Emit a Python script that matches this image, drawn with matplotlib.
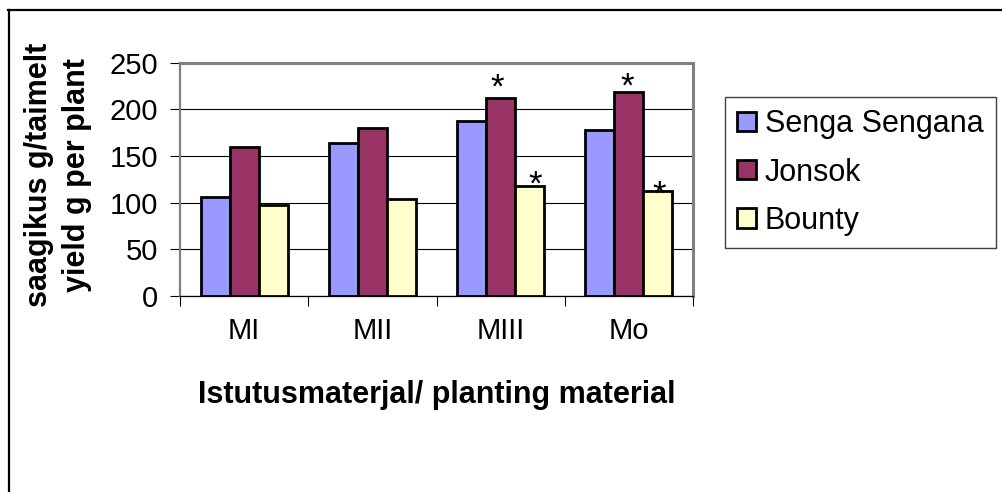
import numpy as np
import matplotlib.pyplot as plt
from matplotlib.lines import Line2D
from matplotlib.patches import Patch

plt.rcParams["font.family"] = ["Liberation Sans", "DejaVu Sans"]

groups = ["MI", "MII", "MIII", "Mo"]
series = ["Senga Sengana", "Jonsok", "Bounty"]
senga = [106, 164, 187, 178]
jonsok = [160, 180, 212, 219]
bounty = [98, 104, 118, 113]
colors = ["#9999FF", "#993366", "#FFFFCC"]

# significance marks: (group index, series index, dx px, star centre height above bar px)
stars = [(2, 1, -3, 20), (2, 2, 6, 11), (3, 1, -2, 15), (3, 2, 1, 6)]

fig = plt.figure(figsize=(10.02, 4.92), dpi=100)
ax = fig.add_axes([180 / 1002, 1 - 296 / 492, 513 / 1002, (296 - 62.7) / 492])

x = np.arange(len(groups))
w = 0.2266
values = [senga, jonsok, bounty]
for k, (name, vals, col) in enumerate(zip(series, values, colors)):
    ax.bar(x + (k - 1) * w, vals, w, color=col, edgecolor="black",
           linewidth=2.0, label=name, zorder=3)

px = 72 / 100  # points per pixel
star_size = 25
for g, s, dx, dy in stars:
    ax.annotate("*", xy=(x[g] + (s - 1) * w, values[s][g]),
                xytext=(dx * px, dy * px - star_size * 0.57), textcoords="offset points",
                ha="center", va="baseline", fontsize=star_size, zorder=4)

ax.set_xlim(-0.5, 3.5)
ax.set_ylim(0, 250)
ax.set_yticks(range(0, 251, 50))
ax.yaxis.grid(True, color="black", linewidth=0.8, zorder=0)
ax.set_axisbelow(True)

ax.set_xticks(x)
ax.set_xticklabels(groups)
ax.set_xticks(np.arange(-0.5, 4, 1), minor=True)
ax.tick_params(axis="x", which="major", length=0, pad=15, labelsize=21)
ax.tick_params(axis="x", which="minor", length=7, width=0.8, direction="out")
ax.tick_params(axis="y", length=7, width=0.8, pad=9, labelsize=21)

for side in ("top", "right", "left"):
    ax.spines[side].set_color("#808080")
    ax.spines[side].set_linewidth(2.2)
ax.spines["left"].set_linewidth(1.6)
ax.spines["bottom"].set_color("black")
ax.spines["bottom"].set_linewidth(0.9)

fig.text(58 / 1002, 1 - 175 / 492, "saagikus g/taimelt\nyield g per plant",
         rotation=90, ha="center", va="center", fontsize=22,
         fontweight="bold", linespacing=1.32)
fig.text(437 / 1002, 1 - 395 / 492, "Istutusmaterjal/ planting material",
         ha="center", va="center", fontsize=22, fontweight="bold")

handles = [Patch(facecolor=c, edgecolor="black", linewidth=2.0) for c in colors]
leg = fig.legend(handles, series, loc="upper left",
                 bbox_to_anchor=(725 / 1002, 1 - 97 / 492), borderaxespad=0,
                 fontsize=22, handlelength=0.6, handleheight=0.6,
                 handletextpad=0.3, labelspacing=0.6, borderpad=0.4,
                 fancybox=False, framealpha=1)
leg.get_frame().set_edgecolor("#404040")
leg.get_frame().set_linewidth(1.0)

# outer chart frame
fig.add_artist(Line2D([8 / 1002, 1.0], [1 - 9.5 / 492] * 2, color="black", linewidth=1.6))
fig.add_artist(Line2D([8.5 / 1002] * 2, [0.0, 1 - 9.5 / 492], color="black", linewidth=1.6))

fig.savefig("out.png", dpi=100)
